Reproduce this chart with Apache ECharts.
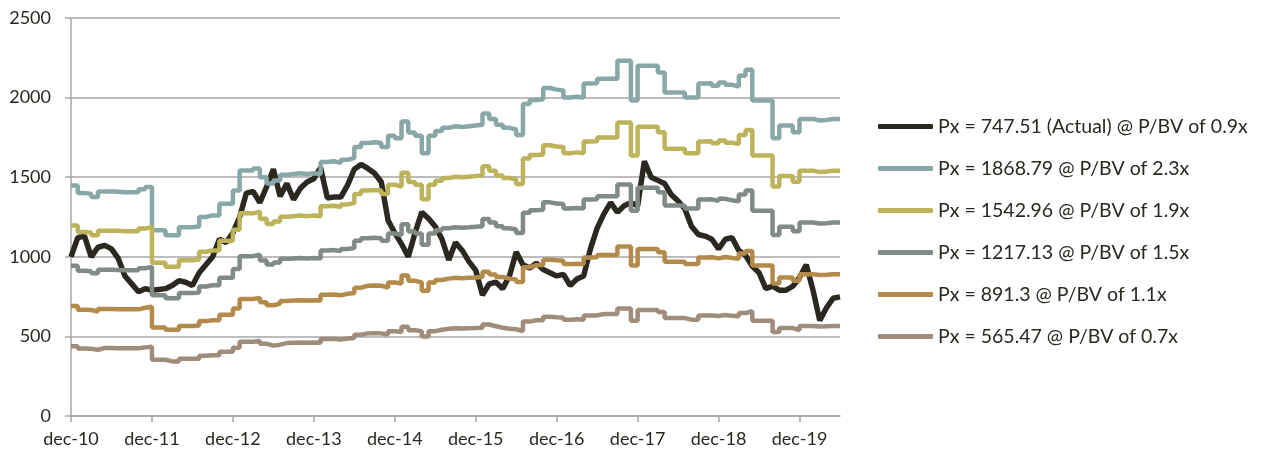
<!DOCTYPE html>
<html>
<head>
<meta charset="utf-8">
<script src="https://cdn.jsdelivr.net/npm/echarts@6/dist/echarts.min.js"></script>
<style>
  html, body { margin: 0; padding: 0; background: #fff; }
  #chart { width: 1262px; height: 456px; }
</style>
</head>
<body>
<div id="chart"></div>
<script>
// maandelijkse punten, dec-10 t/m jun-20
const monthNames = ['dec', 'jan', 'feb', 'mrt', 'apr', 'mei', 'jun', 'jul', 'aug', 'sep', 'okt', 'nov'];
const firstYear = 10;
const monthCount = 115;

const seriesNames = [
  'Px = 747.51 (Actual) @ P/BV of 0.9x',
  'Px = 1868.79 @ P/BV of 2.3x',
  'Px = 1542.96 @ P/BV of 1.9x',
  'Px = 1217.13 @ P/BV of 1.5x',
  'Px = 891.3 @ P/BV of 1.1x',
  'Px = 565.47 @ P/BV of 0.7x'
];
const seriesColors = ['#2b2820', '#88a8a7', '#bcb35a', '#7f8b84', '#b48a4a', '#a08c7b'];

const actualPx = [
  1000, 1120, 1130, 1000, 1060, 1072, 1050, 990, 880, 830, 780, 800,
  790, 795, 800, 820, 850, 840, 820, 900, 950, 1000, 1110, 1090,
  1150, 1250, 1400, 1410, 1340, 1440, 1550, 1380, 1460, 1360, 1430, 1470,
  1490, 1560, 1370, 1375, 1375, 1450, 1550, 1580, 1555, 1525, 1470, 1230,
  1150, 1080, 1000, 1150, 1280, 1240, 1190, 1110, 980, 1090, 1040, 970,
  915, 760, 830, 840, 800, 880, 1030, 950, 930, 960, 920, 900,
  880, 890, 820, 860, 880, 1050, 1180, 1270, 1340, 1280, 1320, 1340,
  1320, 1600, 1500, 1480, 1460, 1390, 1350, 1300, 1190, 1140, 1130, 1110,
  1050, 1110, 1120, 1040, 1010, 940, 900, 800, 815, 790, 790, 815,
  870, 950, 790, 600, 680, 740, 748
];

const px23 = [
  1448, 1400, 1396, 1375, 1410, 1410, 1408, 1405, 1405, 1405, 1425, 1438,
  1166, 1166, 1135, 1135, 1185, 1185, 1190, 1250, 1260, 1260, 1333, 1333,
  1417, 1542, 1542, 1555, 1500, 1460, 1480, 1515, 1520, 1525, 1520, 1525,
  1520, 1595, 1600, 1590, 1610, 1620, 1690, 1715, 1720, 1715, 1690, 1760,
  1745, 1850, 1780, 1760, 1650, 1760, 1790, 1810, 1820, 1815, 1820, 1825,
  1830, 1900, 1865, 1830, 1810, 1800, 1765, 1960, 1985, 1990, 2060, 2050,
  2045, 2000, 2005, 2000, 2088, 2090, 2119, 2119, 2119, 2232, 2232, 1981,
  2200, 2200, 2200, 2158, 2032, 2032, 2032, 2000, 2000, 2088, 2090, 2075,
  2095, 2080, 2070, 2138, 2175, 1981, 1981, 1981, 1745, 1825, 1825, 1783,
  1866, 1866, 1856, 1860, 1866, 1866, 1869
];

const px19 = [
  1196, 1156, 1153, 1135, 1164, 1164, 1163, 1160, 1160, 1160, 1177, 1187,
  963, 963, 937, 937, 978, 978, 983, 1032, 1040, 1040, 1101, 1101,
  1170, 1273, 1273, 1284, 1239, 1206, 1222, 1251, 1255, 1259, 1255, 1259,
  1255, 1317, 1321, 1313, 1329, 1338, 1395, 1416, 1420, 1416, 1395, 1453,
  1441, 1528, 1470, 1453, 1362, 1453, 1478, 1495, 1503, 1499, 1503, 1507,
  1511, 1569, 1540, 1511, 1495, 1486, 1457, 1618, 1639, 1643, 1701, 1693,
  1689, 1651, 1656, 1651, 1724, 1726, 1750, 1750, 1750, 1843, 1843, 1636,
  1817, 1817, 1817, 1782, 1678, 1678, 1678, 1651, 1651, 1724, 1726, 1713,
  1730, 1717, 1709, 1765, 1796, 1636, 1636, 1636, 1441, 1507, 1507, 1472,
  1541, 1541, 1532, 1536, 1541, 1541, 1543
];

const px15 = [
  943, 912, 909, 896, 918, 918, 917, 915, 915, 915, 928, 937,
  759, 759, 739, 739, 772, 772, 775, 814, 821, 821, 868, 868,
  923, 1004, 1004, 1013, 977, 951, 964, 987, 990, 993, 990, 993,
  990, 1039, 1042, 1036, 1049, 1055, 1101, 1117, 1120, 1117, 1101, 1146,
  1137, 1205, 1159, 1146, 1075, 1146, 1166, 1179, 1185, 1182, 1185, 1189,
  1192, 1237, 1215, 1192, 1179, 1172, 1150, 1277, 1293, 1296, 1342, 1335,
  1332, 1303, 1306, 1303, 1360, 1361, 1380, 1380, 1380, 1454, 1454, 1290,
  1433, 1433, 1433, 1406, 1323, 1323, 1323, 1303, 1303, 1360, 1361, 1351,
  1364, 1355, 1348, 1392, 1417, 1290, 1290, 1290, 1137, 1189, 1189, 1161,
  1215, 1215, 1209, 1211, 1215, 1215, 1217
];

const px11 = [
  691, 668, 666, 656, 672, 672, 671, 670, 670, 670, 680, 686,
  556, 556, 541, 541, 565, 565, 568, 596, 601, 601, 636, 636,
  676, 735, 735, 742, 715, 696, 706, 723, 725, 727, 725, 727,
  725, 761, 763, 758, 768, 773, 806, 818, 820, 818, 806, 839,
  832, 882, 849, 839, 787, 839, 854, 863, 868, 866, 868, 870,
  873, 906, 889, 873, 863, 858, 842, 935, 947, 949, 982, 978,
  975, 954, 956, 954, 996, 997, 1011, 1011, 1011, 1064, 1064, 945,
  1049, 1049, 1049, 1029, 969, 969, 969, 954, 954, 996, 997, 990,
  999, 992, 987, 1020, 1037, 945, 945, 945, 832, 870, 870, 850,
  890, 890, 885, 887, 890, 890, 891
];

const px07 = [
  438, 424, 422, 416, 427, 427, 426, 425, 425, 425, 431, 435,
  353, 353, 343, 343, 359, 359, 360, 378, 381, 381, 403, 403,
  429, 467, 467, 471, 454, 442, 448, 458, 460, 461, 460, 461,
  460, 483, 484, 481, 487, 490, 511, 519, 520, 519, 511, 533,
  528, 560, 539, 533, 499, 533, 542, 548, 551, 549, 551, 552,
  554, 575, 564, 554, 548, 545, 534, 593, 601, 602, 623, 620,
  619, 605, 607, 605, 632, 632, 641, 641, 641, 675, 675, 599,
  666, 666, 666, 653, 615, 615, 615, 605, 605, 632, 632, 628,
  634, 629, 626, 647, 658, 599, 599, 599, 528, 552, 552, 540,
  565, 565, 562, 563, 565, 565, 565
];

const months = [];
for (let i = 0; i < monthCount; i++) {
  const m = i % 12;
  const yr = m === 0 ? firstYear + i / 12 : firstYear + 1 + Math.floor(i / 12);
  months.push(monthNames[m] + '-' + yr);
}

const fontFamily = 'Lato';
const textColor = '#2b2820';
const gridColor = '#a6a6a6';

const chart = echarts.init(document.getElementById('chart'));

const bandData = [px23, px19, px15, px11, px07];
const series = [{
  name: seriesNames[0],
  type: 'line',
  data: actualPx,
  showSymbol: false,
  symbol: 'none',
  lineStyle: { width: 5.5, color: seriesColors[0] },
  itemStyle: { color: seriesColors[0] },
  z: 2
}];
bandData.forEach((d, k) => {
  series.push({
    name: seriesNames[k + 1],
    type: 'line',
    data: d,
    step: 'end',
    showSymbol: false,
    symbol: 'none',
    lineStyle: { width: 4.5, color: seriesColors[k + 1] },
    itemStyle: { color: seriesColors[k + 1] },
    z: 3
  });
});

const option = {
  animation: false,
  grid: { left: 71, right: 422, top: 18, bottom: 40 },
  legend: {
    orient: 'vertical',
    left: 878,
    top: 116,
    padding: 0,
    icon: 'roundRect',
    itemWidth: 55,
    itemHeight: 5,
    itemGap: 21,
    data: seriesNames,
    textStyle: { fontFamily: fontFamily, fontSize: 19.5, color: textColor, lineHeight: 21 }
  },
  xAxis: {
    type: 'category',
    data: months,
    boundaryGap: false,
    axisLine: { lineStyle: { color: gridColor, width: 1.5 } },
    axisTick: {
      length: 6,
      interval: (i) => i % 12 === 0,
      lineStyle: { color: gridColor, width: 1.5 }
    },
    axisLabel: {
      interval: (i) => i % 12 === 0,
      margin: 14,
      fontFamily: fontFamily,
      fontSize: 18,
      color: textColor
    },
    splitLine: { show: false }
  },
  yAxis: {
    type: 'value',
    min: 0,
    max: 2500,
    interval: 500,
    axisLine: { show: true, lineStyle: { color: gridColor, width: 1.5 } },
    axisTick: { show: true, length: 6, lineStyle: { color: gridColor, width: 1.5 } },
    axisLabel: {
      margin: 20,
      fontFamily: fontFamily,
      fontSize: 18,
      color: textColor,
      formatter: (v) => String(v)
    },
    splitLine: { lineStyle: { color: gridColor, width: 1.5 } }
  },
  series: series
};

option && chart.setOption(option);
</script>
</body>
</html>
